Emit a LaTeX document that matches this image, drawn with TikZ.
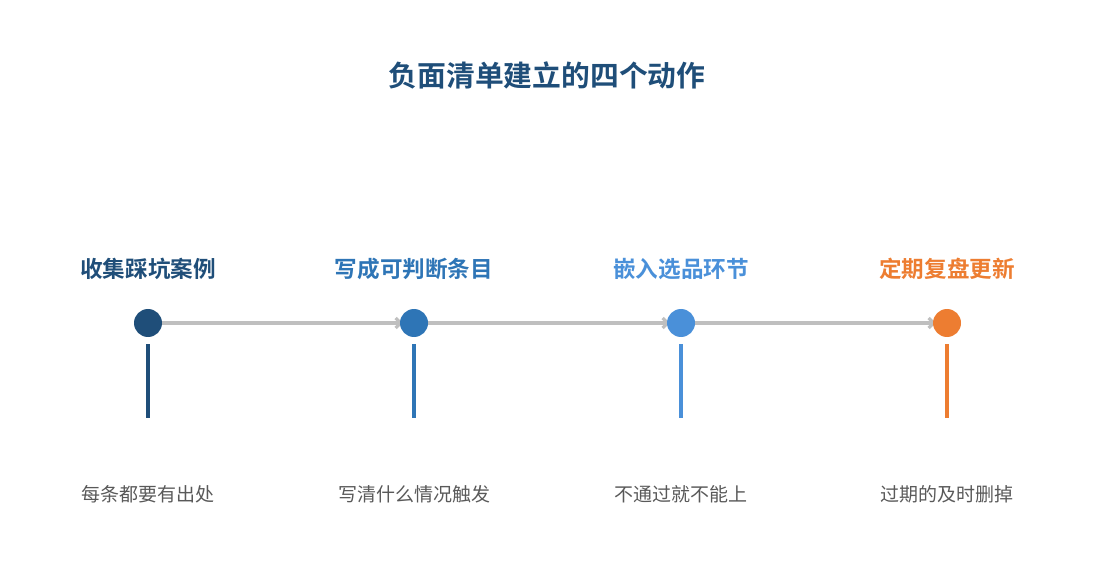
\documentclass[tikz,border=0pt]{standalone}
\usepackage{fontspec}
\usepackage{xcolor}
\usetikzlibrary{positioning}
\usetikzlibrary{arrows.meta, calc, backgrounds}
\newfontfamily\cjk{Noto Sans CJK SC}[BoldFont={Noto Sans CJK SC Bold}]
\definecolor{navy}{HTML}{1F4E79}
\definecolor{midblue}{HTML}{2E75B6}
\definecolor{lightblue}{HTML}{4A90D9}
\definecolor{orange}{HTML}{ED7D31}
\definecolor{linegray}{HTML}{BFBFBF}
\definecolor{textgray}{HTML}{595959}
\tikzset{
    dot/.style={circle, fill=#1, minimum size=28pt, inner sep=0pt},
    stage/.style={font=\cjk\fontsize{22.6}{26}\selectfont\bfseries, text=#1},
    note/.style={font=\cjk\fontsize{19}{23}\selectfont, text=textgray},
    flow/.style={draw=linegray, line width=3.2pt, shorten >=-3pt, -{Straight Barb[length=5pt,width=10pt]}},
    stem/.style={draw=#1, line width=4pt}
}

\begin{document}
\begin{tikzpicture}[x=1pt,y=-1pt]
            \useasboundingbox (0,0) rectangle (1095,585);
            \node[font=\cjk\fontsize{28.8}{32}\selectfont\bfseries, text=navy] (title) at (547,75) {负面清单建立的四个动作};
            \begin{scope}[shift={(148,0)}]
                \node[stage=navy] (s1) at (0,269) {收集踩坑案例};
                \node[dot=navy] (d1) at (0,323) {};
                \coordinate (t1) at (0,344);
                \coordinate (b1) at (0,418);
                \draw[stem=navy] (t1) -- (b1);
                \node[note] (n1) at (0,494) {每条都要有出处};
            \end{scope}
            \begin{scope}[shift={(414,0)}]
                \node[stage=midblue] (s2) at (0,269) {写成可判断条目};
                \node[dot=midblue] (d2) at (0,323) {};
                \coordinate (t2) at (0,344);
                \coordinate (b2) at (0,418);
                \draw[stem=midblue] (t2) -- (b2);
                \node[note] (n2) at (0,494) {写清什么情况触发};
            \end{scope}
            \begin{scope}[shift={(681,0)}]
                \node[stage=lightblue] (s3) at (0,269) {嵌入选品环节};
                \node[dot=lightblue] (d3) at (0,323) {};
                \coordinate (t3) at (0,344);
                \coordinate (b3) at (0,418);
                \draw[stem=lightblue] (t3) -- (b3);
                \node[note] (n3) at (0,494) {不通过就不能上};
            \end{scope}
            \begin{scope}[shift={(947,0)}]
                \node[stage=orange] (s4) at (0,269) {定期复盘更新};
                \node[dot=orange] (d4) at (0,323) {};
                \coordinate (t4) at (0,344);
                \coordinate (b4) at (0,418);
                \draw[stem=orange] (t4) -- (b4);
                \node[note] (n4) at (0,494) {过期的及时删掉};
            \end{scope}
            % gray arrows behind the dots
            \begin{scope}[on background layer]
                \draw[flow] (d1) -- (d2);
                \draw[flow] (d2) -- (d3);
                \draw[flow] (d3) -- (d4);
            \end{scope}
        \end{tikzpicture}
\end{document}
